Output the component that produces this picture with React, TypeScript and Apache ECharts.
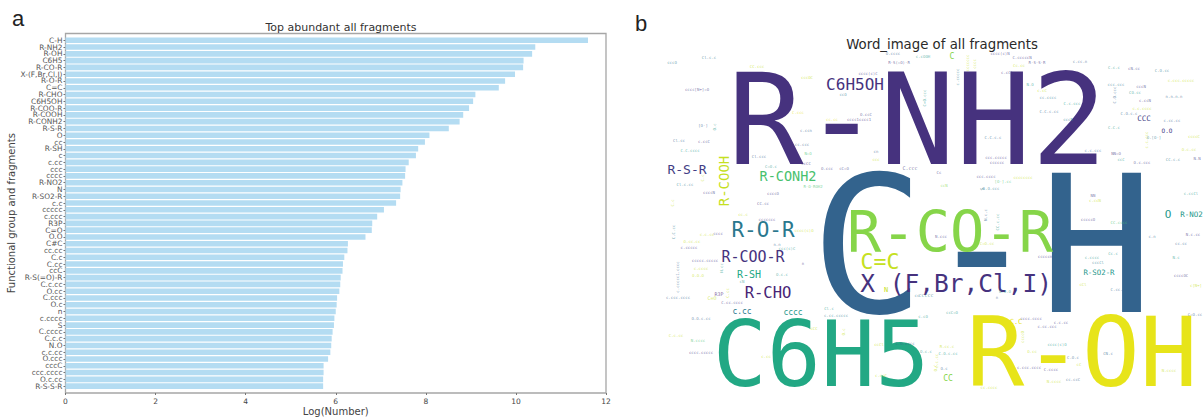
import React, { useEffect, useRef } from "react";
import * as echarts from "echarts";

const fragments = ["C-H","R-NH2","R-OH","C6H5","R-CO-R","X-(F,Br,Cl,I)","R-O-R","C=C","R-CHO","C6H5OH","R-COO-R","R-COOH","R-CONH2","R-S-R","O","cc","R-SH","c","c.cc","ccc","cccc","R-NO2","N","R-SO2-R","c.c","ccccc","c.ccc","R3P","C=O","O.O","C#C","cc.cc","C.c","C.cc","ccC","R-S(=O)-R","C.c.cc","O.cc","C.ccc","O.c","n","c.cccc","S","C.cccc","C.c.c","N.O","c.c.cc","O.ccc","cccC","ccc.cccc","O.c.cc","R-S-S-R"];
const logNumber = [11.6,10.43,10.36,10.17,10.16,9.98,9.76,9.62,9.1,9.05,8.96,8.83,8.75,8.51,8.08,7.98,7.83,7.78,7.62,7.55,7.54,7.48,7.44,7.43,7.34,7.07,6.92,6.81,6.8,6.66,6.27,6.26,6.19,6.16,6.15,6.11,6.1,6.08,6.03,6.02,6.0,5.97,5.96,5.93,5.91,5.9,5.88,5.83,5.73,5.73,5.72,5.72];

const viridis = ["#482576","#46327e","#433e85","#33638d","#2a788e","#1f988b","#48c16e","#86d549","#c5e021","#e7e419","#22a884"];

const cloudWords = [
  "R-NH2","C-H","C6H5","R-OH","R-CO-R","X (F,Br,Cl,I)","C=C","C6H5OH","R-S-R","R-COOH","R-CONH2","R-O-R","R-COO-R","R-SH","R-CHO","c.cc","cccc","O","R-NO2","R-SO2-R","CCC","O.O","C.C","CC","C","N",
  "cccO","Cl.c.c","CC.ccc","cccOC","cccc[N+]=O","O.cccc","R-S(=O)-R","cccc(c)C","ccO","[O-]","O.c","C.ccc","O.ccC","cc.cc","cccc1cccc1","c.ccn","Cl.cc","c.ccC","C.C.cccc","cc.ccc","N=O","cn","Cl.ccc","ccc","C=O.c","ccCC","O.ccc","cC=O","C.ccc","Cl.c.cc","R-O-ROH2","ccccN","ccccO","CC.cc","C.c","C.c",
  "c.cOOH","cccc(c)N","C.cccccN","R-S-S-R","Cc.cc","c.cCl","c.cc.n","c.ccccc","ccccccc","cccc","N.O","c.cC","cc.cccc","C=O.ccc","C.C.c.cc","C.c.ccc","cccN","C.C.c.c","c.c.ccc","ccc.ccccc","cccccc","Cc","ccN","ccc.cccc","[O-].cc","cccccccc","O.O.ccc","S","C.c.c","cN.cc","C.O.cc","c.ccc.ccccc","ccc.ccc","C.O.ccc","cccN","CO.cc","n.n.n.n","c.ccN","c.c.cccc","C.O.c.c","c.cc.cc","C.C.c","O.[O-]","c.c.ccc","ccccC","O.c.cc","NN=O","ccC","O.c.ccc","CC.c.c","N.N","NN","c.ccN","c.ccCl",
  "cc.c","ccccccc","C.C.cc","cccc","c.c.cc","cccc(c)O","O.cc.cc","c.ccccc","n.n","ccc(c)C","ccccc.ccccc","n","N.cc","c.cccc","O.O.O","O.c.c","c.ccccc1.cccc","cN","R3P","C=O","C.cc","c.ccc.cccc","C.cc.cccc","O.O.c.cc","C.c.cc","N.cccc","cccc.ccccc","Cl.c","c.cc.ccccc","cCC","O.c","c.cc","ccCl","C.O.cccc","c.ccC","cc",
  "N.ccc","N.c.c","CC.c.cc","C=O.cc","cccccn","cccccO","CC.cccc","c.n","N.c.cc","cc.cc","N.c","Cc.c","c.cccc","cccCl","ccccOC","c[N+]","cCl","C.cc.cc","N.O.O","n","ccccc","c.cO","ccC=O","C=O.cc","cccc.cccc","c.cc.ccc","c.c.cc","ccccO","cccc(c)O","O.cc","C.O.c","CN.c","R.cc.c","C.O.c.cc","O.c.c","c.c.cc","O.c","O.C","c.ccc.cccc","C.cccc","N.cccc","cc.ccC","cC","N.cccc","cc.cccc"
];

// centre x, centre y, font size, rotation (0 or 90), palette index; same order as cloudWords
const cloudPlacement = [
  [917.5,120,126,0,1],[982,246,190,0,3],[821,354,90,0,10],[1082,353,96,0,9],[950,232,57,0,7],[956,283,24.5,0,1],[880,261,21.5,0,8],[855,84,16,0,1],[687,169,13,0,2],[724,181,14,90,8],[788,176,13.5,0,6],[763,230,21,0,4],[753,257,15,0,1],[749,274,10,0,10],[768,293,15.5,0,0],[742,311,8,0,4],[793,312,8,0,5],[1168,214,11,0,5],[1191.5,214,7.5,0,5],[1099,272,7.4,0,5],[1144,118,7.5,0,2],[1167,130,6,0,2],[1016,322,7,0,9],[948,378,8,0,7],[952,56,8,0,7],[886,290,7,0,8],
  [672,62,4,0,4],[709,57,4,0,4],[757,66,4,0,8],[807,77,4,0,8],[697,89,4,0,2],[893,53,4,0,3],[899,62,4,0,2],[868,73,4,0,2],[843,94,4,0,4],[703,125,4,0,3],[714,127,4,90,5],[798,112,4,0,9],[866,114,4,0,2],[832,119,4,0,9],[859,119,4,0,1],[806,130,4,0,3],[679,140,4,0,3],[704,141,4,0,2],[690,150,4,0,5],[802,144,4,0,3],[808,153,4,0,6],[876,151,4,0,3],[759,156,4,0,3],[876,159,4,0,8],[771,166,4,0,5],[806,163,4,0,2],[827,168,4,0,2],[844,168,4,0,2],[910,168,5,0,2],[685,184,4,0,4],[813,186,4,0,6],[709,192,4,0,2],[773,193,4,0,2],[763,203,4,0,2],[702,178,4,90,8],[672,203,4,90,8],
  [923,56,4,0,5],[1000,53,4,0,2],[1022,57,4,0,2],[1037,62,4,0,2],[1019,65,4,0,8],[1007,72,4,0,2],[1080,61,4,0,3],[957,77,4,90,4],[967,63,4,90,8],[974,64,4,90,8],[1030,84,4,0,5],[1042,90,4,0,8],[1048,97,4,0,4],[924,98,4,90,5],[1049,111,4,0,3],[1072,103,4,0,5],[1068,119,4,0,4],[993,137,4,0,3],[1093,150,4,0,3],[996,157,4,0,2],[997,162,4,0,2],[939,172,4,0,2],[944,185,4,0,7],[986,176,4,0,2],[1003,181,4,0,6],[1023,177,4,0,8],[991,188,4,0,4],[982,189,5,90,4],[1114,67,4,0,5],[1134,68,4,0,2],[1162,70,4,0,4],[1181,80,4,0,8],[1116,84,4,0,4],[1114,95,4,90,3],[1141,86,4,0,2],[1135,92,4,0,5],[1174,96,4,0,3],[1145,100,4,0,2],[1142,108,4,0,8],[1129,113,4,0,3],[1172,120,4,0,3],[1114,127,4,0,5],[1154,137,4,0,4],[1146,140,4,90,8],[1194,136,4,0,8],[1189,149,4,0,8],[1116,153,4,0,1],[1121,159,4,0,5],[1142,162,4,0,2],[1173,159,4,0,4],[1197,158,4,0,2],[1093,195,4,0,2],[1095,200,4,0,8],[1191,193,4,0,5],
  [743,214,4,0,8],[767,219,4,0,2],[673,232,4,90,4],[718,233,4,0,2],[707,234,4,0,8],[804,230,4,0,8],[692,241,4,0,8],[689,247,4,0,2],[777,244,4,0,3],[787,248,4,0,5],[705,260,4,0,2],[803,263,4,0,2],[721,268,4,90,5],[701,268,4,0,8],[698,275,4,0,8],[782,274,4,0,5],[677,277,4,90,3],[742,281,4,0,5],[719,294,5,0,0],[712,298,5,0,8],[727,293,4,90,8],[678,297,4,0,3],[732,302,4,0,2],[701,318,4,0,3],[676,335,4,0,8],[698,340,4,0,6],[701,352,4,0,2],[829,308,4,0,5],[836,315,4,0,4],[814,328,4,0,8],[843,332,4,90,8],[766,356,4,0,8],[879,344,4,0,8],[905,343,4,0,3],[881,375,4,0,8],[917,295,4,0,4],
  [941,236,4,0,2],[985,215,4,90,3],[997,222,4,90,5],[987,243,4,0,8],[1045,256,4,0,2],[1088,219,4,0,2],[1119,222,4,0,6],[1152,236,4,0,3],[1193,234,4,0,2],[1181,243,4,0,3],[1176,257,4,0,5],[1113,253,4,0,5],[1092,257,4,0,5],[1098,262,4,0,4],[1181,275,4,0,2],[1196,285,4,0,8],[1083,284,4,0,8],[1119,289,4,0,3],[1005,291,4,0,5],[997,297,4,0,3],[926,295,5,0,4],[923,316,4,0,5],[952,312,4,0,5],[1195,314,4,0,3],[1031,318,4,0,2],[1047,326,4,0,2],[1061,322,4,0,2],[1022,337,4,90,8],[1057,344,4,0,5],[1032,351,4,0,8],[1073,357,4,0,3],[1108,353,4,0,3],[947,346,4,0,8],[948,353,4,0,5],[926,351,4,0,5],[936,361,4,90,8],[944,368,4,0,3],[935,368,4,90,8],[1029,367,4,0,2],[1051,369,4,0,2],[1054,381,4,0,8],[1073,379,4,0,3],[1079,364,4,0,8],[1169,370,4,0,8],[989,387,4,0,8]
];

const monoFont = "'DejaVu Sans Mono', monospace";
const sansFont = "'DejaVu Sans', sans-serif";
const panelFont = "'Liberation Sans', Arial, sans-serif";

export default function App() {
  const ref = useRef<HTMLDivElement>(null);
  useEffect(() => {
    if (!ref.current) return;
    const chart = echarts.init(ref.current, undefined, { renderer: "svg" });
    chart.setOption({
      animation: false,
      backgroundColor: "#ffffff",
      title: [
        { text: "Top abundant all fragments", left: 336, top: 16.5, textAlign: "center", textStyle: { fontFamily: sansFont, fontSize: 11, fontWeight: "normal", color: "#333" } },
        { text: "Word_image of all fragments", left: 937, top: 33, textAlign: "center", textStyle: { fontFamily: sansFont, fontSize: 13.3, fontWeight: "normal", color: "#2a2a2a" } },
      ],
      grid: [
        { left: 65.5, right: 1203 - 606, top: 36.9, bottom: 28.5, outerBoundsMode: "none" },
        { left: 0, right: 0, top: 0, bottom: 0, outerBoundsMode: "none" },
      ],
      xAxis: [
        {
          gridIndex: 0, type: "value", min: 0, max: 12, interval: 2, offset: 3.5,
          name: "Log(Number)", nameLocation: "middle", nameGap: 13.5, nameMoveOverlap: false,
          nameTextStyle: { fontFamily: sansFont, fontSize: 10, color: "#444" },
          axisLine: { show: false },
          axisTick: { show: true, length: 2, lineStyle: { color: "#777" } },
          axisLabel: { fontFamily: sansFont, fontSize: 7.5, color: "#444", margin: 4 },
          splitLine: { show: false },
        },
        { gridIndex: 1, type: "value", min: 0, max: 1203, show: false },
      ],
      yAxis: [
        {
          gridIndex: 0, type: "category", inverse: true, data: fragments,
          name: "Functional group and fragments", nameLocation: "middle", nameGap: 49,
          nameTextStyle: { fontFamily: sansFont, fontSize: 10, color: "#444" },
          axisLine: { show: false },
          axisTick: { show: true, length: 2, alignWithLabel: true, lineStyle: { color: "#777" } },
          axisLabel: { interval: 0, fontFamily: sansFont, fontSize: 7.4, color: "#555", margin: 3 },
        },
        { gridIndex: 1, type: "value", inverse: true, min: 0, max: 418, show: false },
      ],
      series: [
        {
          type: "bar", xAxisIndex: 0, yAxisIndex: 0, data: logNumber,
          barWidth: 5.6, itemStyle: { color: "#b4dcf2" }, silent: true,
        },
        {
          type: "custom", xAxisIndex: 1, yAxisIndex: 1, clip: false, silent: true,
          encode: { x: 0, y: 1 },
          data: cloudPlacement.map((p, i) => [p[0], p[1], i]),
          renderItem: (_: any, api: any) => {
            const i = api.value(2);
            const pt = api.coord([api.value(0), api.value(1)]);
            const p = cloudPlacement[i];
            return {
              type: "text", x: pt[0], y: pt[1],
              rotation: p[3] ? Math.PI / 2 : 0,
              style: {
                text: cloudWords[i], fontFamily: monoFont, fontSize: p[2],
                fill: viridis[p[4]], align: "center", verticalAlign: "middle",
                opacity: p[2] <= 5 ? 0.7 : 1,
              },
            };
          },
        },
      ],
      graphic: [
        { type: "rect", silent: true, shape: { x: 65.5, y: 33.5, width: 540.5, height: 359.5 }, style: { fill: "none", stroke: "#a6a6a6", lineWidth: 1.3 } },
        { type: "text", silent: true, x: 12, y: 7, style: { text: "a", fontFamily: panelFont, fontSize: 22, fill: "#222" } },
        { type: "text", silent: true, x: 635, y: 12, style: { text: "b", fontFamily: panelFont, fontSize: 22, fill: "#222" } },
      ],
    });
    return () => chart.dispose();
  }, []);
  return <div ref={ref} style={{ position: "absolute", left: 0, top: 0, width: 1203, height: 418 }} />;
}
